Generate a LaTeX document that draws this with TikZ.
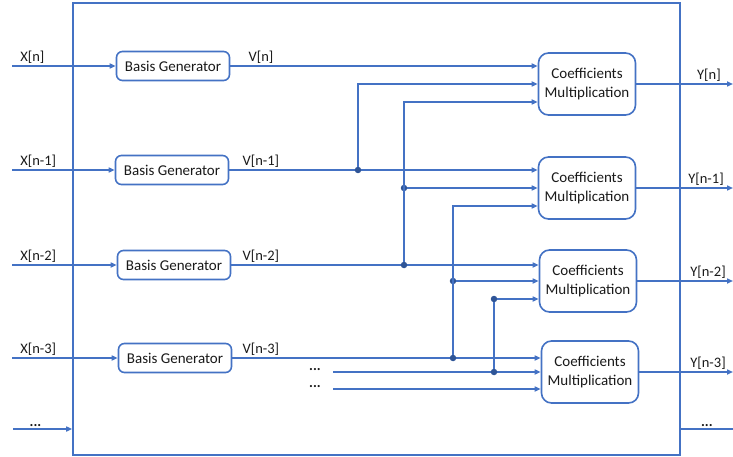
\documentclass[tikz,border=0pt]{standalone}
\usepackage{fontspec}
\setmainfont{Carlito}
\usetikzlibrary{arrows.meta,calc}
\definecolor{LineBlue}{HTML}{4472C4}
\definecolor{DotBlue}{HTML}{2F5597}
\definecolor{TextDark}{HTML}{1A1A1A}

\begin{document}
\begin{tikzpicture}[x=1pt, y=-1pt,
  wire/.style={LineBlue, line width=1.6pt},
  arr/.style={wire, -{Triangle[length=6pt,width=5pt]}},
  box/.style={draw=LineBlue, line width=1.6pt, rounded corners=6pt, fill=white, text=TextDark,
    font=\fontsize{15}{19}\selectfont, align=center, inner sep=0pt},
  basis/.style={box, minimum width=113pt, minimum height=29pt},
  coeff/.style={box, rounded corners=10pt, minimum width=97pt, minimum height=62pt},
  lab/.style={text=TextDark, font=\fontsize{14.5}{17}\selectfont, inner sep=1.5pt},
  junc/.style={circle, fill=DotBlue, inner sep=0pt, minimum size=6.5pt}]

  \useasboundingbox (0,0) rectangle (733,457);

  % Systemrahmen
  \node[draw=LineBlue, line width=1.6pt, minimum width=607pt, minimum height=452pt, inner sep=0pt] (sys) at (376.5,229) {};

  % Bildrand links/rechts
  \coordinate (lEdge) at (12,0);
  \coordinate (rEdge) at (733,0);

  % Basis-Generatoren
  \node[basis] (bg1) at (173,66)  {Basis Generator};
  \node[basis] (bg2) at (172,170) {Basis Generator};
  \node[basis] (bg3) at (174,265) {Basis Generator};
  \node[basis] (bg4) at (175,358) {Basis Generator};

  % Koeffizienten-Multiplikation
  \node[coeff] (cm1) at (587,84)  {Coefficients\\Multiplication};
  \node[coeff] (cm2) at (587,188) {Coefficients\\Multiplication};
  \node[coeff] (cm3) at (588,281) {Coefficients\\Multiplication};
  \node[coeff] (cm4) at (590,372) {Coefficients\\Multiplication};

  % Eingaenge
  \draw[arr] (lEdge |- bg1) -- node[lab, pos=0, anchor=south west, xshift=6pt] {X[n]} (bg1);
  \draw[arr] (lEdge |- bg2) -- node[lab, pos=0, anchor=south west, xshift=6pt] {X[n-1]} (bg2);
  \draw[arr] (lEdge |- bg3) -- node[lab, pos=0, anchor=south west, xshift=6pt] {X[n-2]} (bg3);
  \draw[arr] (lEdge |- bg4) -- node[lab, pos=0, anchor=south west, xshift=6pt] {X[n-3]} (bg4);
  \coordinate (xdots) at (13,429);
  \draw[arr] (xdots) -- node[lab, above, pos=0.38] {\textbf{...}} (xdots -| sys.west);

  % V-Leitungen
  \draw[arr] (bg1.east) -- node[lab, pos=0, anchor=south west, xshift=16pt] {V[n]} (bg1.east -| cm1.west);
  \draw[arr] (bg2.east) -- node[lab, pos=0, anchor=south west, xshift=11pt] {V[n-1]} (bg2.east -| cm2.west);
  \draw[arr] (bg3.east) -- node[lab, pos=0, anchor=south west, xshift=9pt] {V[n-2]} (bg3.east -| cm3.west);
  \draw[arr] (bg4.east) -- node[lab, pos=0, anchor=south west, xshift=8pt] {V[n-3]} (bg4.east -| cm4.west);

  % Abzweigungen
  \node[junc] (j1) at (358,170) {};
  \draw[arr] (j1) |- (cm1.west);

  \coordinate (c1in3) at ($(cm1.west)+(0,18)$);
  \node[junc] (j2) at (404,265) {};
  \node[junc] (j2b) at (404,188) {};
  \draw[arr] (j2) |- (c1in3);
  \draw[arr] (j2b) -- (cm2.west);

  \coordinate (c2in3) at ($(cm2.west)+(0,18)$);
  \node[junc] (j3) at (453,358) {};
  \node[junc] (j3b) at (453,281) {};
  \draw[arr] (j3) |- (c2in3);
  \draw[arr] (j3b) -- (cm3.west);

  % weitere Eingaenge
  \node[lab] (d1) at (315,370) {\textbf{...}};
  \node[lab] (d2) at (315,387) {\textbf{...}};
  \coordinate (t1) at (333,372);
  \coordinate (t2) at (333,389);
  \draw[arr] (t1) -- (cm4.west);
  \draw[arr] (t2) -- (t2 -| cm4.west);
  \node[junc] (j4) at (494,372) {};
  \node[junc] (j4b) at (494,299) {};
  \draw[wire] (j4) -- (j4b);
  \draw[arr] (j4b) -- (j4b -| cm3.west);

  % Ausgaenge
  \draw[arr] (cm1.east) -- node[lab, pos=1, anchor=south east, xshift=-10pt] {Y[n]} (cm1.east -| rEdge);
  \draw[arr] (cm2.east) -- node[lab, pos=1, anchor=south east, xshift=-7pt] {Y[n-1]} (cm2.east -| rEdge);
  \draw[arr] (cm3.east) -- node[lab, pos=1, anchor=south east, xshift=-5pt] {Y[n-2]} (cm3.east -| rEdge);
  \draw[arr] (cm4.east) -- node[lab, pos=1, anchor=south east, xshift=-5pt] {Y[n-3]} (cm4.east -| rEdge);
  \coordinate (ydots) at (733,429);
  \draw[wire] (sys.east |- ydots) -- node[lab, above] {\textbf{...}} (ydots);

\end{tikzpicture}
\end{document}
